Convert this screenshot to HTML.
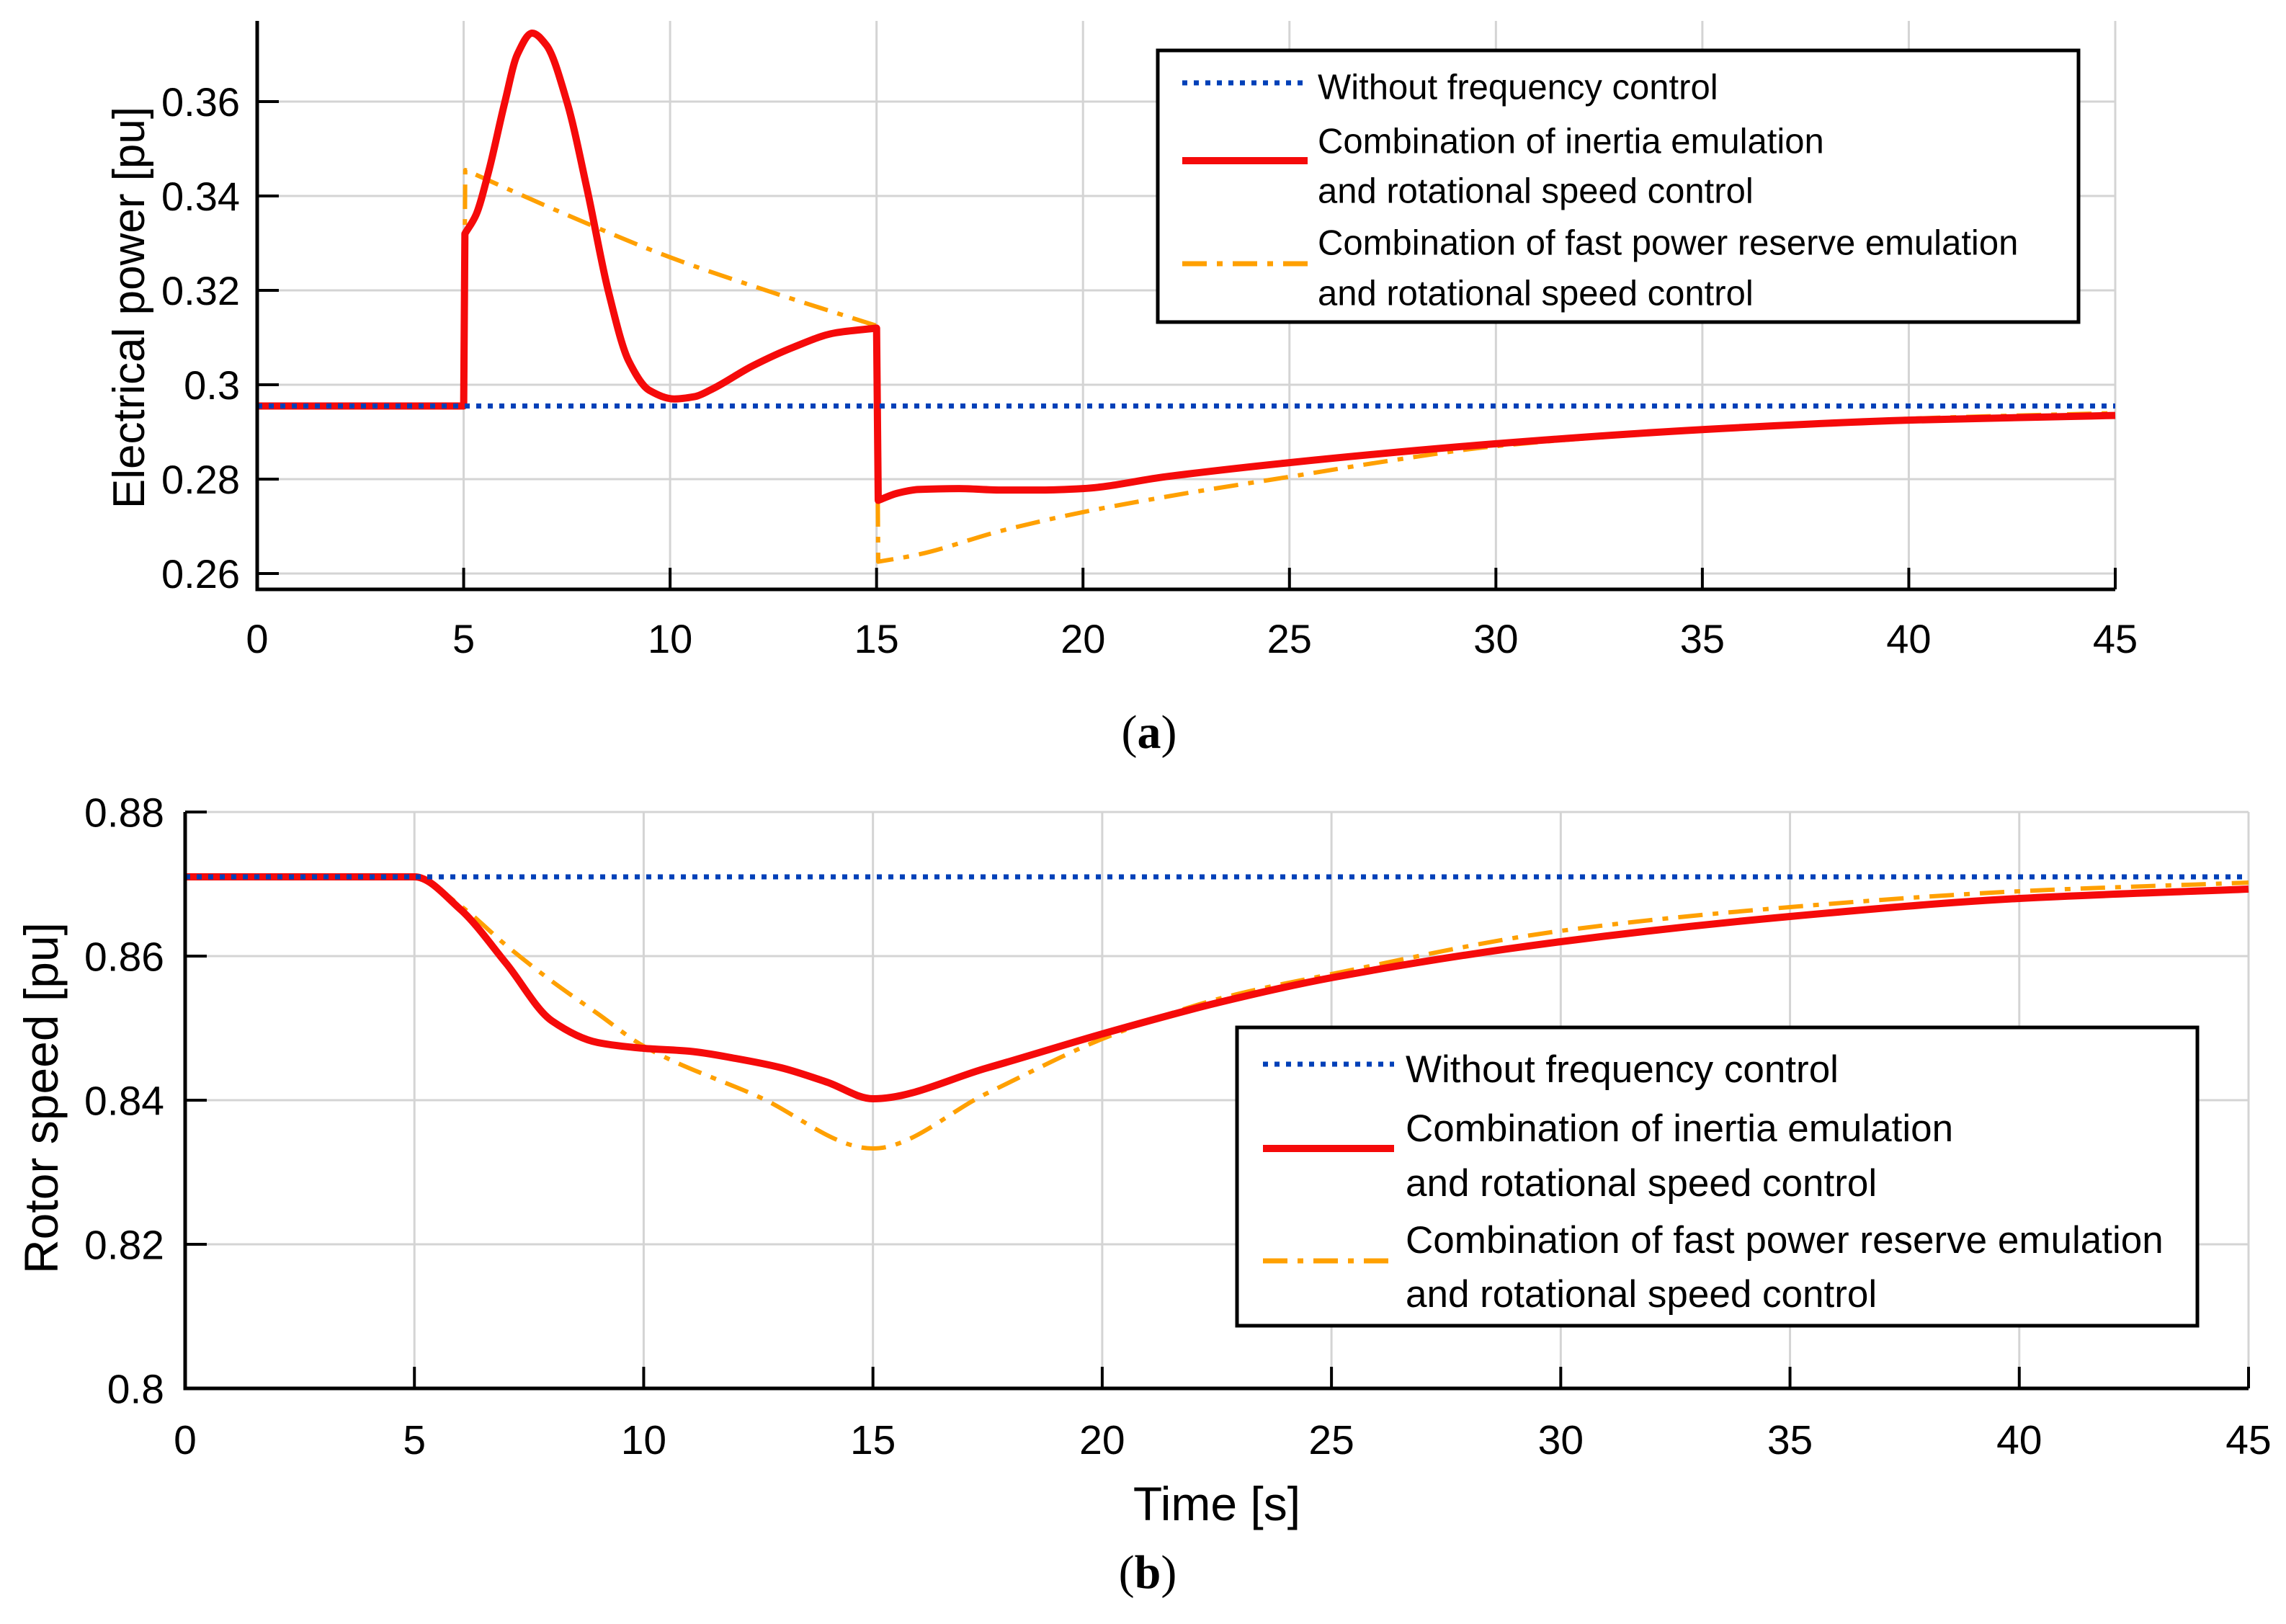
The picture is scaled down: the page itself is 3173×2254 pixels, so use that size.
<!DOCTYPE html>
<html><head><meta charset="utf-8"><style>
html,body{margin:0;padding:0;background:#fff}
svg{display:block}
text{font-family:"Liberation Sans",Arial,sans-serif;fill:#000}
</style></head><body>
<svg id="fig" width="3173" height="2254" viewBox="0 0 3173 2254" xmlns="http://www.w3.org/2000/svg">
<rect width="3173" height="2254" fill="#fff"/>
<g id="chartA"></g>
<g id="chartB"></g>
<text x="1595" y="1038" font-size="66" text-anchor="middle" style="font-family:'Liberation Serif',serif">(<tspan font-weight="bold">a</tspan>)</text>
<text x="1593" y="2204" font-size="66" text-anchor="middle" style="font-family:'Liberation Serif',serif">(<tspan font-weight="bold">b</tspan>)</text>
<text x="1689" y="2110" font-size="66" text-anchor="middle">Time [s]</text>
</svg>
<script>
// ---- Panel (a) data: electrical power ----
const xTicks = [0,5,10,15,20,25,30,35,40,45];
const yTicksA = [0.26,0.28,0.3,0.32,0.34,0.36];
const yTickLabelsA = ["0.26","0.28","0.3","0.32","0.34","0.36"];
const tBlueA = [0,45];
const vBlueA = [0.2955,0.2955];
const tRedA = [0,5,5.03,5.3,5.6,6.0,6.3,6.66,7.0,7.5,8.0,8.5,9.0,9.5,10.1,10.6,11,12,13,14,15,15.04,15.5,16,17,18,19,20,22,25,30,35,40,45];
const vRedA = [0.2955,0.2955,0.332,0.336,0.345,0.36,0.37,0.3745,0.372,0.36,0.341,0.32,0.305,0.2988,0.297,0.2975,0.299,0.304,0.308,0.311,0.312,0.2755,0.277,0.2778,0.278,0.2777,0.2777,0.278,0.2805,0.2835,0.2875,0.2905,0.2925,0.2935];
const tOrangeA = [0,5,5.04,7.5,10,12.5,15,15.04,16,18,20,22.5,25,27.5,30,35,40,45];
const vOrangeA = [0.2955,0.2955,0.3455,0.336,0.327,0.3195,0.3125,0.2625,0.264,0.269,0.273,0.277,0.2805,0.284,0.287,0.2903,0.2928,0.294];

// ---- Panel (b) data: rotor speed ----
const yTicksB = [0.8,0.82,0.84,0.86,0.88];
const yTickLabelsB = ["0.8","0.82","0.84","0.86","0.88"];
const tBlueB = [0,45];
const vBlueB = [0.871,0.871];
const tRedB = [0,5,6,7,8,9,10,11,12,13,14,15,17.5,20,22.5,25,30,35,40,45];
const vRedB = [0.871,0.871,0.8665,0.859,0.851,0.848,0.8472,0.8468,0.8458,0.8445,0.8425,0.8402,0.8445,0.8492,0.8535,0.857,0.862,0.8655,0.868,0.8693];
const tOrangeB = [0,5,6,7,8,9,10,12.5,15,17.5,20,22.5,25,30,35,40,45];
const vOrangeB = [0.871,0.871,0.867,0.8615,0.8565,0.852,0.8475,0.8405,0.8333,0.841,0.8485,0.854,0.8575,0.8635,0.8668,0.869,0.8702];

const legendLabels = ["Without frequency control","Combination of inertia emulation","and rotational speed control","Combination of fast power reserve  emulation","and rotational speed control"];

const NS="http://www.w3.org/2000/svg";
function mk(tag, parent, attrs){const e=document.createElementNS(NS,tag);for(const k in attrs)e.setAttribute(k,attrs[k]);parent.appendChild(e);return e;}

// monotone cubic (Fritsch-Carlson) per smooth segment; jumps (dt<0.1) drawn straight
function pathFor(ts, vs, sx, sy){
  const segs=[]; let cur=[0];
  for(let i=0;i<ts.length-1;i++){
    if(ts[i+1]-ts[i]<0.1){segs.push(cur);cur=[i+1];}
    else cur.push(i+1);
  }
  segs.push(cur);
  let d="";
  segs.forEach((idx,si)=>{
    const X=idx.map(i=>sx(ts[i])), Y=idx.map(i=>sy(vs[i]));
    d += (si===0?"M":" L")+X[0].toFixed(1)+","+Y[0].toFixed(1);
    const n=X.length; if(n<2) return;
    const dl=[],m=new Array(n);
    for(let i=0;i<n-1;i++) dl.push((Y[i+1]-Y[i])/(X[i+1]-X[i]));
    m[0]=dl[0]; m[n-1]=dl[n-2];
    for(let i=1;i<n-1;i++){
      if(dl[i-1]*dl[i]<=0) m[i]=0;
      else { const w1=2*(X[i+1]-X[i])+(X[i]-X[i-1]), w2=(X[i+1]-X[i])+2*(X[i]-X[i-1]);
        m[i]=(w1+w2)/(w1/dl[i-1]+w2/dl[i]); }
    }
    for(let i=0;i<n-1;i++){
      const h=(X[i+1]-X[i])/3;
      d+=" C"+(X[i]+h).toFixed(1)+","+(Y[i]+m[i]*h).toFixed(1)+" "+(X[i+1]-h).toFixed(1)+","+(Y[i+1]-m[i+1]*h).toFixed(1)+" "+X[i+1].toFixed(1)+","+Y[i+1].toFixed(1);
    }
  });
  return d;
}

function drawChart(g, cfg){
  const sx = t => cfg.x0 + t/45*(cfg.x1-cfg.x0);
  const sy = v => cfg.yRef + (cfg.vRef - v)/0.02*cfg.pxPer02;
  xTicks.forEach(t=>{ if(t===0) return;
    const l=mk("line",g,{x1:sx(t),x2:sx(t),y1:cfg.top,y2:cfg.bottom,stroke:"#d4d4d4","stroke-width":3});
    
    
  });
  cfg.yTicks.forEach(v=>{
    const l=mk("line",g,{x1:cfg.x0,x2:cfg.x1,y1:sy(v),y2:sy(v),stroke:"#d4d4d4","stroke-width":3});
    
    
  });
  const series = [
    {t:cfg.tO,v:cfg.vO,stroke:"#ffa000",w:6,dash:"34 14 8 14",name:"series-fast-power-reserve"},
    {t:cfg.tR,v:cfg.vR,stroke:"#f50a0a",w:10,dash:"",name:"series-inertia-emulation"},
    {t:cfg.tB,v:cfg.vB,stroke:"#0040b8",w:7,dash:"7 9",name:"series-without-control"}
  ];
  series.forEach(s=>{
    const p=mk("path",g,{d:pathFor(s.t,s.v,sx,sy),fill:"none",stroke:s.stroke,"stroke-width":s.w,"stroke-linejoin":"round"});
    if(s.dash) p.setAttribute("stroke-dasharray",s.dash);
    
    
  });
  const ax=mk("path",g,{d:`M${cfg.x0},${cfg.top} L${cfg.x0},${cfg.bottom} L${cfg.x1},${cfg.bottom}`,fill:"none",stroke:"#000","stroke-width":5});
  
  
  xTicks.forEach(t=>{
    const tk=mk("line",g,{x1:sx(t),x2:sx(t),y1:cfg.bottom,y2:cfg.bottom-30,stroke:"#000","stroke-width":4});
    
    
    const tx=mk("text",g,{x:sx(t),y:cfg.xLabelY,"font-size":cfg.fs,"text-anchor":"middle"});
    tx.textContent=String(t);
    
    
  });
  cfg.yTicks.forEach((v,i)=>{
    const tk=mk("line",g,{x1:cfg.x0,x2:cfg.x0+30,y1:sy(v),y2:sy(v),stroke:"#000","stroke-width":4});
    
    
    const tx=mk("text",g,{x:cfg.yLabelX,y:sy(v)+cfg.fs*0.36,"font-size":cfg.fs,"text-anchor":"end"});
    tx.textContent=cfg.yLabels[i];
    
    
  });
  const yt=mk("text",g,{x:0,y:0,"font-size":cfg.titleFs,"text-anchor":"middle",transform:`translate(${cfg.titleX},${cfg.titleY}) rotate(-90)`});
  yt.textContent=cfg.title;
  
  
  const L=cfg.leg;
  const box=mk("rect",g,{x:L.x,y:L.y,width:L.w,height:L.h,fill:"#fff",stroke:"#000","stroke-width":5});
  
  
  const s1=mk("line",g,{x1:L.lx0,x2:L.lx1,y1:L.ly[0],y2:L.ly[0],stroke:"#0040b8","stroke-width":7,"stroke-dasharray":"7 9"});
  
  
  const s2=mk("line",g,{x1:L.lx0,x2:L.lx1,y1:L.ly[1],y2:L.ly[1],stroke:"#f50a0a","stroke-width":10});
  
  
  const s3=mk("line",g,{x1:L.lx0,x2:L.lx1,y1:L.ly[2],y2:L.ly[2],stroke:"#ffa000","stroke-width":7,"stroke-dasharray":"34 14 8 14"});
  
  
  cfg.legLabels.forEach((s,i)=>{
    const tx=mk("text",g,{x:L.tx,y:L.ty[i]+L.fs*0.36,"font-size":L.fs});
    tx.textContent=s;
    
    
  });
}

drawChart(document.getElementById("chartA"),{
  x0:357,x1:2936,top:29,bottom:818,yRef:796,vRef:0.26,pxPer02:131,
  yTicks:yTicksA,yLabels:yTickLabelsA,fs:56,xLabelY:906,yLabelX:333,
  title:"Electrical power [pu]",titleFs:62,titleX:200,titleY:427,
  tB:tBlueA,vB:vBlueA,tR:tRedA,vR:vRedA,tO:tOrangeA,vO:vOrangeA,
  legLabels:legendLabels,
  leg:{x:1607,y:70,w:1278,h:377,lx0:1641,lx1:1815,ly:[115,223,366],tx:1829,ty:[120,195,264,336,406],fs:49}
});
drawChart(document.getElementById("chartB"),{
  x0:257,x1:3121,top:1127,bottom:1927,yRef:1927,vRef:0.8,pxPer02:200,
  yTicks:yTicksB,yLabels:yTickLabelsB,fs:57,xLabelY:2018,yLabelX:228,
  title:"Rotor speed [pu]",titleFs:66,titleX:80,titleY:1524,
  tB:tBlueB,vB:vBlueB,tR:tRedB,vR:vRedB,tO:tOrangeB,vO:vOrangeB,
  legLabels:legendLabels.map(s=>s.replace("  "," ")),
  leg:{x:1717,y:1426,w:1333,h:414,lx0:1753,lx1:1935,ly:[1477,1594,1750],tx:1951,ty:[1483,1565,1641,1720,1795],fs:53}
});
</script>
</body></html>
